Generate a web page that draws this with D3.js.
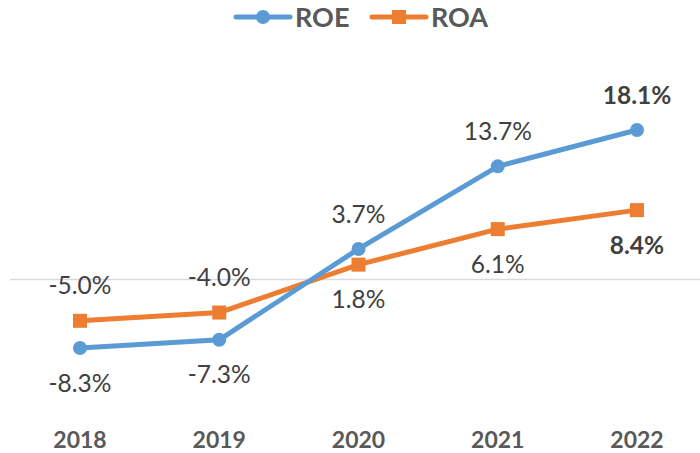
<!DOCTYPE html>
<html>
<head>
<meta charset="utf-8">
<script src="https://cdn.jsdelivr.net/npm/d3@7/dist/d3.min.js"></script>
<style>
  html, body { margin: 0; padding: 0; background: #fff; }
  svg { display: block; font-family: Lato, "Open Sans", sans-serif; }
</style>
</head>
<body>
<svg width="700" height="453"></svg>
<script>
// ROE / ROA by year, values in percent
const years = ['2018', '2019', '2020', '2021', '2022'];
const roe = [-8.3, -7.3, 3.7, 13.7, 18.1];
const roa = [-5.0, -4.0, 1.8, 6.1, 8.4];
// label side per point: 1 = above, -1 = below
const roeSide = [-1, -1, 1, 1, 1];
const roaSide = [1, 1, -1, -1, -1];

const svg = d3.select('svg');
const W = 700;
const x = d3.scalePoint().domain(years).range([80, 637]);
const y = d3.scaleLinear().domain([0, 18.1]).range([279.5, 130]);

// zero line
svg.append('line').attr('x1', 10).attr('x2', W).attr('y1', y(0)).attr('y2', y(0))
  .attr('stroke', '#d9d9d9').attr('stroke-width', 1.5);

// year labels
svg.selectAll('text.year').data(years).enter().append('text')
  .attr('x', d => x(d)).attr('y', 448).attr('text-anchor', 'middle')
  .attr('font-size', 23).attr('font-weight', 700).attr('fill', '#595959').text(d => d);

const series = [
  { name: 'ROE', vals: roe, side: roeSide, color: '#5b9bd5', shape: 'circle' },
  { name: 'ROA', vals: roa, side: roaSide, color: '#ed7d31', shape: 'square' },
];
const line = d3.line().x((d, i) => x(years[i])).y(d => y(d));

// ROA drawn first so ROE sits on top
[series[1], series[0]].forEach(s => {
  svg.append('path').attr('d', line(s.vals)).attr('fill', 'none')
    .attr('stroke', s.color).attr('stroke-width', 5).attr('stroke-linejoin', 'round').attr('stroke-linecap', 'round');
  s.vals.forEach((v, i) => {
    const cx = x(years[i]), cy = y(v);
    if (s.shape === 'circle') svg.append('circle').attr('cx', cx).attr('cy', cy).attr('r', 7).attr('fill', s.color);
    else svg.append('rect').attr('x', cx - 7).attr('y', cy - 7).attr('width', 14).attr('height', 14).attr('fill', s.color);
  });
});

series.forEach(s => {
  s.vals.forEach((v, i) => {
    const last = i === s.vals.length - 1;
    svg.append('text').attr('x', x(years[i])).attr('y', y(v) - s.side[i] * 35)
      .attr('dy', '0.35em').attr('text-anchor', 'middle').attr('font-size', 24.5)
      .attr('font-weight', last ? 700 : 400).attr('fill', '#404040')
      .text(v.toFixed(1) + '%');
  });
});

// legend
const leg = [{ s: series[0], x0: 236 }, { s: series[1], x0: 372 }];
leg.forEach(({ s, x0 }) => {
  const ly = 17;
  svg.append('line').attr('x1', x0).attr('x2', x0 + 54).attr('y1', ly).attr('y2', ly)
    .attr('stroke', s.color).attr('stroke-width', 5).attr('stroke-linecap', 'round');
  if (s.shape === 'circle') svg.append('circle').attr('cx', x0 + 27).attr('cy', ly).attr('r', 7).attr('fill', s.color);
  else svg.append('rect').attr('x', x0 + 20).attr('y', ly - 7).attr('width', 14).attr('height', 14).attr('fill', s.color);
  svg.append('text').attr('x', x0 + 59).attr('y', ly).attr('dy', '0.36em')
    .attr('font-size', 27).attr('font-weight', 700).attr('fill', '#595959').text(s.name);
});
</script>
</body>
</html>
